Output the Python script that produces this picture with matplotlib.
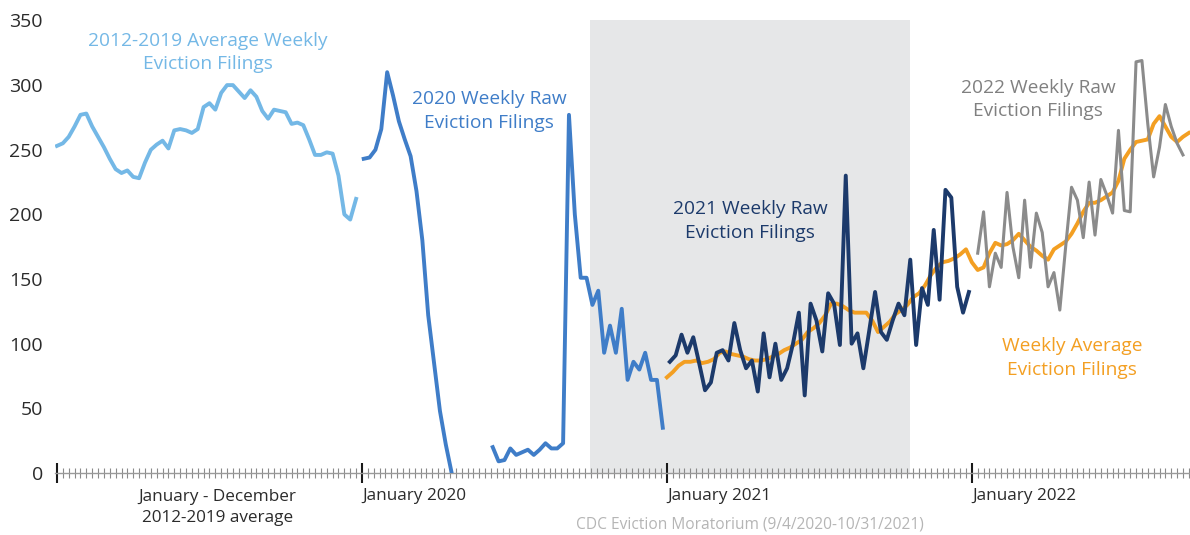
import numpy as np
import matplotlib
matplotlib.use("Agg")
import matplotlib.pyplot as plt
from matplotlib.ticker import MultipleLocator, FixedLocator

# ---------------- data (weekly eviction filings) ----------------
avg_2012_2019 = [253, 255, 260, 268, 277, 278, 268, 260, 252, 243,
                 235, 232, 234, 229, 228, 240, 250, 254, 257, 251,
                 265, 266, 265, 263, 266, 283, 286, 281, 294, 300,
                 300, 295, 290, 296, 291, 280, 274, 281, 280, 279,
                 270, 271, 269, 258, 246, 246, 248, 247, 230, 200,
                 196, 212]
raw_2020 = [243, 244, 250, 266, 310, 292, 272, 258, 245, 218,
            180, 122, 85, 48, 22, 0,
            np.nan, np.nan, np.nan, np.nan, np.nan, np.nan,
            20, 9, 10, 19, 14, 16, 18, 14, 18, 23, 19, 19, 23,
            277, 200, 151, 151, 130, 141, 93, 114, 93, 127,
            72, 86, 80, 93, 72, 72, 35]
raw_2021 = [86, 91, 107, 93, 105, 85, 64, 70, 93, 95,
            87, 116, 95, 81, 87, 63, 108, 74, 100, 72,
            81, 100, 124, 60, 131, 118, 94, 139, 131, 99,
            230, 100, 108, 81, 110, 140, 109, 103, 118, 131,
            122, 165, 99, 143, 130, 188, 134, 219, 213, 144,
            124, 140]
raw_2022 = [170, 202, 144, 170, 159, 217, 175, 151, 211, 159,
            201, 186, 144, 155, 126, 175, 221, 211, 182, 225,
            184, 227, 215, 201, 265, 203, 202, 318, 319, 270,
            229, 252, 285, 268, 255, 246]
weekly_avg = [74, 78, 83, 86, 86, 87, 85, 86, 88, 93,
              94, 92, 91, 90, 88, 87, 87, 88, 90, 92,
              95, 97, 100, 103, 109, 112, 116, 122, 131, 131,
              129, 126, 124, 124, 124, 118, 109, 113, 117, 123,
              126, 130, 136, 139, 145, 153, 159, 163, 164, 166,
              169, 173, 163, 157, 159, 170, 178, 176, 177, 180,
              185, 180, 175, 172, 168, 165, 173, 176, 179, 185,
              193, 202, 209, 209, 211, 214, 217, 226, 243, 250,
              256, 257, 258, 270, 276, 268, 260, 256, 260, 263]

start_2012_2019 = 0
start_2020 = 52.3
start_2021 = 104.5
start_2022 = 157
start_avg = 104

moratorium_weeks = [90.9, 145.4]
year_start_weeks = [0, 52, 104, 156]
year_labels = ["", "January 2020", "January 2021", "January 2022"]
first_label = "January - December\n2012-2019 average"
first_label_week = 27.4
y_ticks = [0, 50, 100, 150, 200, 250, 300, 350]
grid_values = [50, 150, 250, 350]

# ---------------- style ----------------
C_AVG1219 = "#74b8e6"
C_2020 = "#3f7dc8"
C_2021 = "#1c3a6b"
C_2022 = "#8b8b8b"
C_AVG = "#f39f22"
C_SHADE = "#e6e7e8"

plt.rcParams["font.family"] = ["Open Sans", "DejaVu Sans"]

W, H = 1190, 535
fig = plt.figure(figsize=(W / 100, H / 100), dpi=100)
YMAX = 352
px_per_unit = 129.3 / 100
top_px = 473 - YMAX * px_per_unit
ax = fig.add_axes([55 / W, 1 - 473 / H, 1 - 55 / W, (473 - top_px) / H])
ax.set_xlim(-0.34, 193.2)
ax.set_ylim(0, YMAX)

ax.axvspan(moratorium_weeks[0], moratorium_weeks[1], ymin=0, ymax=350 / YMAX,
           color=C_SHADE, zorder=0, lw=0)

def xs(start, vals):
    return start + np.arange(len(vals))

ax.plot(xs(start_2012_2019, avg_2012_2019), avg_2012_2019, color=C_AVG1219, lw=2.8,
        solid_joinstyle="round", zorder=3)
ax.plot(xs(start_2020, raw_2020), raw_2020, color=C_2020, lw=2.8,
        solid_joinstyle="round", zorder=3)
ax.plot(xs(start_avg, weekly_avg), weekly_avg, color=C_AVG, lw=2.8,
        solid_joinstyle="round", zorder=3)
ax.plot(xs(start_2021, raw_2021), raw_2021, color=C_2021, lw=2.8,
        solid_joinstyle="round", zorder=4)
ax.plot(xs(start_2022, raw_2022), raw_2022, color=C_2022, lw=2.2,
        solid_joinstyle="round", zorder=5)

# axes / grid
for s in ["top", "right", "left"]:
    ax.spines[s].set_visible(False)
ax.spines["bottom"].set_color("#9a9a9a")
ax.spines["bottom"].set_linewidth(1.0)

ax.yaxis.set_major_locator(FixedLocator(y_ticks))
ax.yaxis.set_minor_locator(FixedLocator(grid_values))
ax.grid(which="minor", axis="y", color="#b4b4b4", lw=0.9, zorder=1)
ax.tick_params(axis="y", which="both", length=0, pad=8.6, labelsize=14,
               labelcolor="#2b2b2b")

ax.xaxis.set_major_locator(FixedLocator(year_start_weeks))
ax.xaxis.set_minor_locator(MultipleLocator(1))
ax.set_xticklabels(year_labels, ha="left")
ax.tick_params(axis="x", which="major", direction="inout", length=14, width=1.5,
               color="#1a1a1a", labelsize=12.3, labelcolor="#2b2b2b", pad=4)
ax.tick_params(axis="x", which="minor", direction="inout", length=6.5, width=0.8,
               color="#8a8a8a")

ax.annotate(first_label, xy=(first_label_week, 0), xycoords=("data", "axes fraction"),
            xytext=(0, -11.5), textcoords="offset points", ha="center", va="top",
            fontsize=12.3, color="#2b2b2b", linespacing=1.4)
ax.annotate("CDC Eviction Moratorium (9/4/2020-10/31/2021)",
            xy=(np.mean(moratorium_weeks), 0), xycoords=("data", "axes fraction"),
            xytext=(0, -31), textcoords="offset points", ha="center", va="top",
            fontsize=11.2, color="#b5b5b5")

# series labels
lab_kw = dict(ha="center", va="center", fontsize=13.8, linespacing=1.38, zorder=6)
ax.text(25.7, 325, "2012-2019 Average Weekly\nEviction Filings", color=C_AVG1219, **lab_kw)
ax.text(73.7, 280, "2020 Weekly Raw\nEviction Filings", color=C_2020, **lab_kw)
ax.text(118.2, 195, "2021 Weekly Raw\nEviction Filings", color=C_2021, **lab_kw)
ax.text(167.3, 289, "2022 Weekly Raw\nEviction Filings", color="#808080", **lab_kw)
ax.text(173.1, 89, "Weekly Average\nEviction Filings", color=C_AVG, **lab_kw)

fig.savefig("out.png", dpi=100)
